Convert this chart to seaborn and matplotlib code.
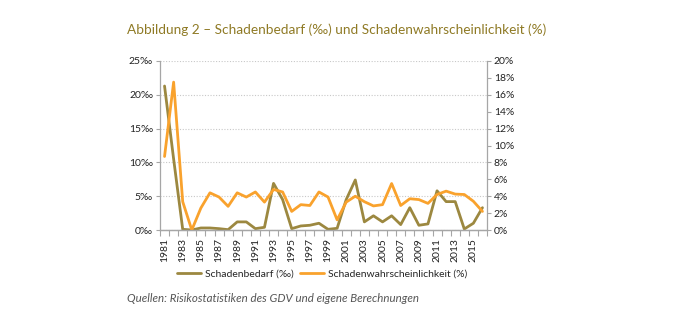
import numpy as np
import pandas as pd
import matplotlib
matplotlib.use("Agg")
import matplotlib.pyplot as plt
from matplotlib.ticker import FixedLocator
import seaborn as sns

years = list(range(1981, 2017))
schadenbedarf = [21.3, 10.5, 0.1, 0.0, 0.3, 0.3, 0.2, 0.05, 1.2, 1.2, 0.2, 0.4,
                 6.9, 4.5, 0.2, 0.6, 0.7, 1.0, 0.1, 0.25, 4.5, 7.4, 1.2, 2.1,
                 1.2, 2.1, 0.8, 3.3, 0.7, 0.9, 5.8, 4.2, 4.2, 0.15, 1.0, 3.3]
wahrscheinlichkeit = [8.7, 17.5, 3.35, 0.0, 2.6, 4.4, 3.9, 2.8, 4.4, 3.9, 4.5, 3.3,
                      4.8, 4.5, 2.2, 3.0, 2.9, 4.5, 3.9, 1.2, 3.3, 4.0, 3.35, 2.85,
                      3.0, 5.5, 2.9, 3.7, 3.6, 3.15, 4.2, 4.6, 4.25, 4.2, 3.4, 2.2]
left_ticks = [0, 5, 10, 15, 20, 25]
right_ticks = [0, 2, 4, 6, 8, 10, 12, 14, 16, 18, 20]

title = "Abbildung 2 – Schadenbedarf (‰) und Schadenwahrscheinlichkeit (%)"
source = "Quellen: Risikostatistiken des GDV und eigene Berechnungen"
label1 = "Schadenbedarf (‰)"
label2 = "Schadenwahrscheinlichkeit (%)"

sns.set_theme(style="white")
plt.rcParams['font.family'] = ['Lato', 'DejaVu Sans']

OLIVE = "#9c8840"
ORANGE = "#f9a22d"
TITLE_C = "#8f7a25"
AXIS_C = "#a6a6a6"

df = pd.DataFrame({"idx": np.arange(len(years)), "year": years,
                   "sb": schadenbedarf, "sw": wahrscheinlichkeit})

fig = plt.figure(figsize=(6.74, 3.30), dpi=100)
ax = fig.add_axes([160/674, 1-230/330, 327/674, 169/330])
ax2 = ax.twinx()

sns.lineplot(data=df, x="idx", y="sb", ax=ax, color=OLIVE, linewidth=2.0, label=label1, legend=False)
sns.lineplot(data=df, x="idx", y="sw", ax=ax2, color=ORANGE, linewidth=2.0, label=label2, legend=False)

ax.set_xlim(-0.5, len(years) - 0.5)
ax.set_ylim(0, 25)
ax2.set_ylim(0, 20)

ax.set_yticks(left_ticks)
ax.set_yticklabels([f"{v}‰" for v in left_ticks])
ax2.set_yticks(right_ticks)
ax2.set_yticklabels([f"{v}%" for v in right_ticks])

idx_labels = list(range(0, len(years), 2))
ax.set_xticks(idx_labels)
ax.set_xticklabels([str(years[i]) for i in idx_labels], rotation=90)
ax.xaxis.set_minor_locator(FixedLocator(np.arange(-0.5, len(years), 1.0)))
ax.tick_params(axis="x", which="major", length=0, pad=6, labelsize=7.5, colors="#222222")
ax.tick_params(axis="x", which="minor", length=4, width=0.8, color=AXIS_C, bottom=True)
ax.tick_params(axis="y", length=3, width=0.8, color=AXIS_C, labelsize=7.5, labelcolor="#222222", left=True, pad=2)
ax2.tick_params(axis="y", length=3, width=0.8, color=AXIS_C, labelsize=7.5, labelcolor="#222222", right=True, pad=2)

ax.set_xlabel("")
ax.set_ylabel("")
ax2.set_ylabel("")

ax.yaxis.grid(True, linestyle=(0, (1, 1.5)), color="#c8c8c8", linewidth=0.8)
ax.set_axisbelow(True)

for a in (ax, ax2):
    a.spines["top"].set_visible(False)
    for s in ("left", "right", "bottom"):
        a.spines[s].set_color(AXIS_C)
        a.spines[s].set_linewidth(0.9)
ax.spines["right"].set_visible(False)
ax2.spines["left"].set_visible(False)

h1, l1 = ax.get_legend_handles_labels()
h2, l2 = ax2.get_legend_handles_labels()
fig.legend(h1 + h2, l1 + l2, loc="center", bbox_to_anchor=(322/674, 1-274/330),
           ncol=2, frameon=False, fontsize=7.5, handlelength=2.3, columnspacing=0.6,
           handletextpad=0.4)

fig.text(127/674, 1-30/330, title, fontsize=9.8, color=TITLE_C, va="center", ha="left")
fig.text(127/674, 1-298/330, source, fontsize=8.3, color="#555555", style="italic", va="center", ha="left")

fig.savefig("out.png", dpi=100)
